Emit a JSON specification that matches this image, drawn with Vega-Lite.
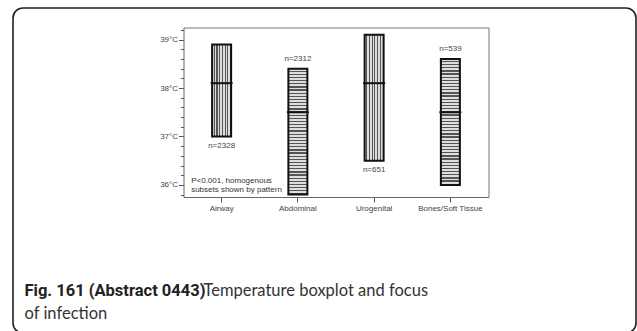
{
  "$schema": "https://vega.github.io/schema/vega-lite/v6.json",
  "width": 623,
  "height": 325,
  "autosize": {"type": "none"},
  "padding": {"left": 13, "top": 8, "right": 1, "bottom": 0},
  "background": "white",
  "config": {
    "view": {"stroke": "#222", "strokeWidth": 1.6, "cornerRadius": 10, "fill": "white"},
    "font": "Liberation Sans"
  },
  "data": {
    "values": [
      {"focus": "Airway", "low": 37.0, "median": 38.1, "high": 38.9, "n": "n=2328", "subset": "A"},
      {"focus": "Abdominal", "low": 35.8, "median": 37.5, "high": 38.4, "n": "n=2312", "subset": "B"},
      {"focus": "Urogenital", "low": 36.5, "median": 38.1, "high": 39.1, "n": "n=651", "subset": "A"},
      {"focus": "Bones/Soft Tissue", "low": 36.0, "median": 37.5, "high": 38.6, "n": "n=539", "subset": "B"}
    ]
  },
  "resolve": {"axis": {"x": "independent", "y": "independent"}},
  "layer": [
    {
      "transform": [{"filter": "datum.subset === 'A'"}],
      "mark": {
        "type": "bar", "width": 19, "stroke": "#111", "strokeWidth": 2,
        "fill": {"gradient": "linear", "x1": 0, "y1": 0, "x2": 1, "y2": 0, "stops": [
          {"offset": 0, "color": "#dedede"}, {"offset": 0.0857, "color": "#dedede"}, {"offset": 0.0857, "color": "#555555"}, {"offset": 0.1429, "color": "#555555"},
          {"offset": 0.1429, "color": "#dedede"}, {"offset": 0.2286, "color": "#dedede"}, {"offset": 0.2286, "color": "#555555"}, {"offset": 0.2857, "color": "#555555"},
          {"offset": 0.2857, "color": "#dedede"}, {"offset": 0.3714, "color": "#dedede"}, {"offset": 0.3714, "color": "#555555"}, {"offset": 0.4286, "color": "#555555"},
          {"offset": 0.4286, "color": "#dedede"}, {"offset": 0.5143, "color": "#dedede"}, {"offset": 0.5143, "color": "#555555"}, {"offset": 0.5714, "color": "#555555"},
          {"offset": 0.5714, "color": "#dedede"}, {"offset": 0.6571, "color": "#dedede"}, {"offset": 0.6571, "color": "#555555"}, {"offset": 0.7143, "color": "#555555"},
          {"offset": 0.7143, "color": "#dedede"}, {"offset": 0.8, "color": "#dedede"}, {"offset": 0.8, "color": "#555555"}, {"offset": 0.8571, "color": "#555555"},
          {"offset": 0.8571, "color": "#dedede"}, {"offset": 0.9429, "color": "#dedede"}, {"offset": 0.9429, "color": "#555555"}, {"offset": 1, "color": "#555555"}
        ]}
      },
      "encoding": {
        "x": {
          "field": "focus", "type": "nominal",
          "scale": {"domain": ["Airway", "Abdominal", "Urogenital", "Bones/Soft Tissue"], "range": [170.5, 475.5], "paddingInner": 0, "paddingOuter": 0},
          "axis": {
            "orient": "bottom", "offset": -136, "grid": false,
            "labelAngle": 0, "labelFontSize": 8, "labelColor": "#444", "labelPadding": 2,
            "tickSize": 5, "tickColor": "#555", "domainColor": "#666",
            "title": "Temperature boxplot and focus", "titleX": 190, "titleY": 98,
            "titleAlign": "left", "titleBaseline": "alphabetic", "titleAngle": 0,
            "titleFont": "Lato", "titleFontSize": 16.5, "titleFontWeight": "normal", "titleColor": "#333", "titleLimit": 1000
          }
        },
        "y": {
          "field": "low", "type": "quantitative",
          "scale": {"domain": [35.75, 39.25], "range": [189, 19.5], "zero": false, "nice": false},
          "axis": {
            "orient": "left", "offset": -170.5, "grid": false,
            "values": [36, 37, 38, 39], "labelExpr": "datum.value + '°C'",
            "labelFontSize": 8, "labelColor": "#444", "labelPadding": 1,
            "tickSize": 5, "tickColor": "#555", "domainColor": "#666",
            "title": "Fig. 161 (Abstract 0443)", "titleX": -159.5, "titleY": 287,
            "titleAlign": "left", "titleBaseline": "alphabetic", "titleAngle": 0,
            "titleFont": "Roboto", "titleFontSize": 16.5, "titleFontWeight": "bold", "titleColor": "#222", "titleLimit": 1000
          }
        },
        "y2": {"field": "high"}
      }
    },
    {
      "transform": [{"filter": "datum.subset === 'B'"}],
      "mark": {
        "type": "bar", "width": 19, "stroke": "#111", "strokeWidth": 2,
        "fill": {"gradient": "linear", "x1": 0, "y1": 0, "x2": 0, "y2": 1, "stops": [
          {"offset": 0, "color": "#dedede"}, {"offset": 0.015, "color": "#dedede"}, {"offset": 0.015, "color": "#555555"}, {"offset": 0.025, "color": "#555555"},
          {"offset": 0.025, "color": "#dedede"}, {"offset": 0.04, "color": "#dedede"}, {"offset": 0.04, "color": "#555555"}, {"offset": 0.05, "color": "#555555"},
          {"offset": 0.05, "color": "#dedede"}, {"offset": 0.065, "color": "#dedede"}, {"offset": 0.065, "color": "#555555"}, {"offset": 0.075, "color": "#555555"},
          {"offset": 0.075, "color": "#dedede"}, {"offset": 0.09, "color": "#dedede"}, {"offset": 0.09, "color": "#555555"}, {"offset": 0.1, "color": "#555555"},
          {"offset": 0.1, "color": "#dedede"}, {"offset": 0.115, "color": "#dedede"}, {"offset": 0.115, "color": "#555555"}, {"offset": 0.125, "color": "#555555"},
          {"offset": 0.125, "color": "#dedede"}, {"offset": 0.14, "color": "#dedede"}, {"offset": 0.14, "color": "#555555"}, {"offset": 0.15, "color": "#555555"},
          {"offset": 0.15, "color": "#dedede"}, {"offset": 0.165, "color": "#dedede"}, {"offset": 0.165, "color": "#555555"}, {"offset": 0.175, "color": "#555555"},
          {"offset": 0.175, "color": "#dedede"}, {"offset": 0.19, "color": "#dedede"}, {"offset": 0.19, "color": "#555555"}, {"offset": 0.2, "color": "#555555"},
          {"offset": 0.2, "color": "#dedede"}, {"offset": 0.215, "color": "#dedede"}, {"offset": 0.215, "color": "#555555"}, {"offset": 0.225, "color": "#555555"},
          {"offset": 0.225, "color": "#dedede"}, {"offset": 0.24, "color": "#dedede"}, {"offset": 0.24, "color": "#555555"}, {"offset": 0.25, "color": "#555555"},
          {"offset": 0.25, "color": "#dedede"}, {"offset": 0.265, "color": "#dedede"}, {"offset": 0.265, "color": "#555555"}, {"offset": 0.275, "color": "#555555"},
          {"offset": 0.275, "color": "#dedede"}, {"offset": 0.29, "color": "#dedede"}, {"offset": 0.29, "color": "#555555"}, {"offset": 0.3, "color": "#555555"},
          {"offset": 0.3, "color": "#dedede"}, {"offset": 0.315, "color": "#dedede"}, {"offset": 0.315, "color": "#555555"}, {"offset": 0.325, "color": "#555555"},
          {"offset": 0.325, "color": "#dedede"}, {"offset": 0.34, "color": "#dedede"}, {"offset": 0.34, "color": "#555555"}, {"offset": 0.35, "color": "#555555"},
          {"offset": 0.35, "color": "#dedede"}, {"offset": 0.365, "color": "#dedede"}, {"offset": 0.365, "color": "#555555"}, {"offset": 0.375, "color": "#555555"},
          {"offset": 0.375, "color": "#dedede"}, {"offset": 0.39, "color": "#dedede"}, {"offset": 0.39, "color": "#555555"}, {"offset": 0.4, "color": "#555555"},
          {"offset": 0.4, "color": "#dedede"}, {"offset": 0.415, "color": "#dedede"}, {"offset": 0.415, "color": "#555555"}, {"offset": 0.425, "color": "#555555"},
          {"offset": 0.425, "color": "#dedede"}, {"offset": 0.44, "color": "#dedede"}, {"offset": 0.44, "color": "#555555"}, {"offset": 0.45, "color": "#555555"},
          {"offset": 0.45, "color": "#dedede"}, {"offset": 0.465, "color": "#dedede"}, {"offset": 0.465, "color": "#555555"}, {"offset": 0.475, "color": "#555555"},
          {"offset": 0.475, "color": "#dedede"}, {"offset": 0.49, "color": "#dedede"}, {"offset": 0.49, "color": "#555555"}, {"offset": 0.5, "color": "#555555"},
          {"offset": 0.5, "color": "#dedede"}, {"offset": 0.515, "color": "#dedede"}, {"offset": 0.515, "color": "#555555"}, {"offset": 0.525, "color": "#555555"},
          {"offset": 0.525, "color": "#dedede"}, {"offset": 0.54, "color": "#dedede"}, {"offset": 0.54, "color": "#555555"}, {"offset": 0.55, "color": "#555555"},
          {"offset": 0.55, "color": "#dedede"}, {"offset": 0.565, "color": "#dedede"}, {"offset": 0.565, "color": "#555555"}, {"offset": 0.575, "color": "#555555"},
          {"offset": 0.575, "color": "#dedede"}, {"offset": 0.59, "color": "#dedede"}, {"offset": 0.59, "color": "#555555"}, {"offset": 0.6, "color": "#555555"},
          {"offset": 0.6, "color": "#dedede"}, {"offset": 0.615, "color": "#dedede"}, {"offset": 0.615, "color": "#555555"}, {"offset": 0.625, "color": "#555555"},
          {"offset": 0.625, "color": "#dedede"}, {"offset": 0.64, "color": "#dedede"}, {"offset": 0.64, "color": "#555555"}, {"offset": 0.65, "color": "#555555"},
          {"offset": 0.65, "color": "#dedede"}, {"offset": 0.665, "color": "#dedede"}, {"offset": 0.665, "color": "#555555"}, {"offset": 0.675, "color": "#555555"},
          {"offset": 0.675, "color": "#dedede"}, {"offset": 0.69, "color": "#dedede"}, {"offset": 0.69, "color": "#555555"}, {"offset": 0.7, "color": "#555555"},
          {"offset": 0.7, "color": "#dedede"}, {"offset": 0.715, "color": "#dedede"}, {"offset": 0.715, "color": "#555555"}, {"offset": 0.725, "color": "#555555"},
          {"offset": 0.725, "color": "#dedede"}, {"offset": 0.74, "color": "#dedede"}, {"offset": 0.74, "color": "#555555"}, {"offset": 0.75, "color": "#555555"},
          {"offset": 0.75, "color": "#dedede"}, {"offset": 0.765, "color": "#dedede"}, {"offset": 0.765, "color": "#555555"}, {"offset": 0.775, "color": "#555555"},
          {"offset": 0.775, "color": "#dedede"}, {"offset": 0.79, "color": "#dedede"}, {"offset": 0.79, "color": "#555555"}, {"offset": 0.8, "color": "#555555"},
          {"offset": 0.8, "color": "#dedede"}, {"offset": 0.815, "color": "#dedede"}, {"offset": 0.815, "color": "#555555"}, {"offset": 0.825, "color": "#555555"},
          {"offset": 0.825, "color": "#dedede"}, {"offset": 0.84, "color": "#dedede"}, {"offset": 0.84, "color": "#555555"}, {"offset": 0.85, "color": "#555555"},
          {"offset": 0.85, "color": "#dedede"}, {"offset": 0.865, "color": "#dedede"}, {"offset": 0.865, "color": "#555555"}, {"offset": 0.875, "color": "#555555"},
          {"offset": 0.875, "color": "#dedede"}, {"offset": 0.89, "color": "#dedede"}, {"offset": 0.89, "color": "#555555"}, {"offset": 0.9, "color": "#555555"},
          {"offset": 0.9, "color": "#dedede"}, {"offset": 0.915, "color": "#dedede"}, {"offset": 0.915, "color": "#555555"}, {"offset": 0.925, "color": "#555555"},
          {"offset": 0.925, "color": "#dedede"}, {"offset": 0.94, "color": "#dedede"}, {"offset": 0.94, "color": "#555555"}, {"offset": 0.95, "color": "#555555"},
          {"offset": 0.95, "color": "#dedede"}, {"offset": 0.965, "color": "#dedede"}, {"offset": 0.965, "color": "#555555"}, {"offset": 0.975, "color": "#555555"},
          {"offset": 0.975, "color": "#dedede"}, {"offset": 0.99, "color": "#dedede"}, {"offset": 0.99, "color": "#555555"}, {"offset": 1, "color": "#555555"}
        ]}
      },
      "encoding": {
        "x": {
          "field": "focus", "type": "nominal",
          "scale": {"domain": ["Airway", "Abdominal", "Urogenital", "Bones/Soft Tissue"], "range": [170.5, 475.5], "paddingInner": 0, "paddingOuter": 0},
          "axis": {"orient": "top", "offset": -19.5, "labels": false, "ticks": false, "grid": false, "title": null, "domainColor": "#777"}
        },
        "y": {
          "field": "low", "type": "quantitative",
          "scale": {"domain": [35.75, 39.25], "range": [189, 19.5], "zero": false, "nice": false},
          "axis": {
            "orient": "right", "offset": -147.5, "labels": false, "ticks": false, "grid": false, "domainColor": "#777",
            "title": "of infection", "titleX": -464.5, "titleY": 310,
            "titleAlign": "left", "titleBaseline": "alphabetic", "titleAngle": 0,
            "titleFont": "Lato", "titleFontSize": 16.5, "titleFontWeight": "normal", "titleColor": "#333", "titleLimit": 1000
          }
        },
        "y2": {"field": "high"}
      }
    },
    {
      "mark": {"type": "tick", "size": 22, "thickness": 2, "color": "#111", "opacity": 1},
      "encoding": {
        "x": {
          "field": "focus", "type": "nominal",
          "scale": {"domain": ["Airway", "Abdominal", "Urogenital", "Bones/Soft Tissue"], "range": [170.5, 475.5], "paddingInner": 0, "paddingOuter": 0},
          "axis": null
        },
        "y": {
          "field": "median", "type": "quantitative",
          "scale": {"domain": [35.75, 39.25], "range": [189, 19.5], "zero": false, "nice": false},
          "axis": {
            "orient": "left", "offset": -170.5, "grid": false, "labels": false, "domain": false, "title": null,
            "values": [35.8, 36.2, 36.4, 36.6, 36.8, 37.2, 37.4, 37.6, 37.8, 38.2, 38.4, 38.6, 38.8, 39.2],
            "tickSize": 3, "tickColor": "#555"
          }
        }
      }
    },
    {
      "transform": [{"filter": "datum.subset === 'A'"}],
      "mark": {"type": "text", "baseline": "top", "dy": 5.5, "fontSize": 8, "color": "#444"},
      "encoding": {
        "x": {"field": "focus", "type": "nominal", "axis": null},
        "y": {"field": "low", "type": "quantitative", "axis": null},
        "text": {"field": "n"}
      }
    },
    {
      "transform": [{"filter": "datum.subset === 'B'"}],
      "mark": {"type": "text", "baseline": "bottom", "dy": -5.5, "fontSize": 8, "color": "#444"},
      "encoding": {
        "x": {"field": "focus", "type": "nominal", "axis": null},
        "y": {"field": "high", "type": "quantitative", "axis": null},
        "text": {"field": "n"}
      }
    },
    {
      "data": {"values": [{"note": "P<0.001, homogenous\nsubsets shown by pattern"}]},
      "mark": {"type": "text", "align": "left", "baseline": "middle", "lineBreak": "\n", "lineHeight": 9, "dx": -30.5, "fontSize": 8, "color": "#333"},
      "encoding": {
        "x": {"datum": "Airway", "type": "nominal", "axis": null},
        "y": {"datum": 36.08, "type": "quantitative", "axis": null},
        "text": {"field": "note"}
      }
    }
  ]
}
